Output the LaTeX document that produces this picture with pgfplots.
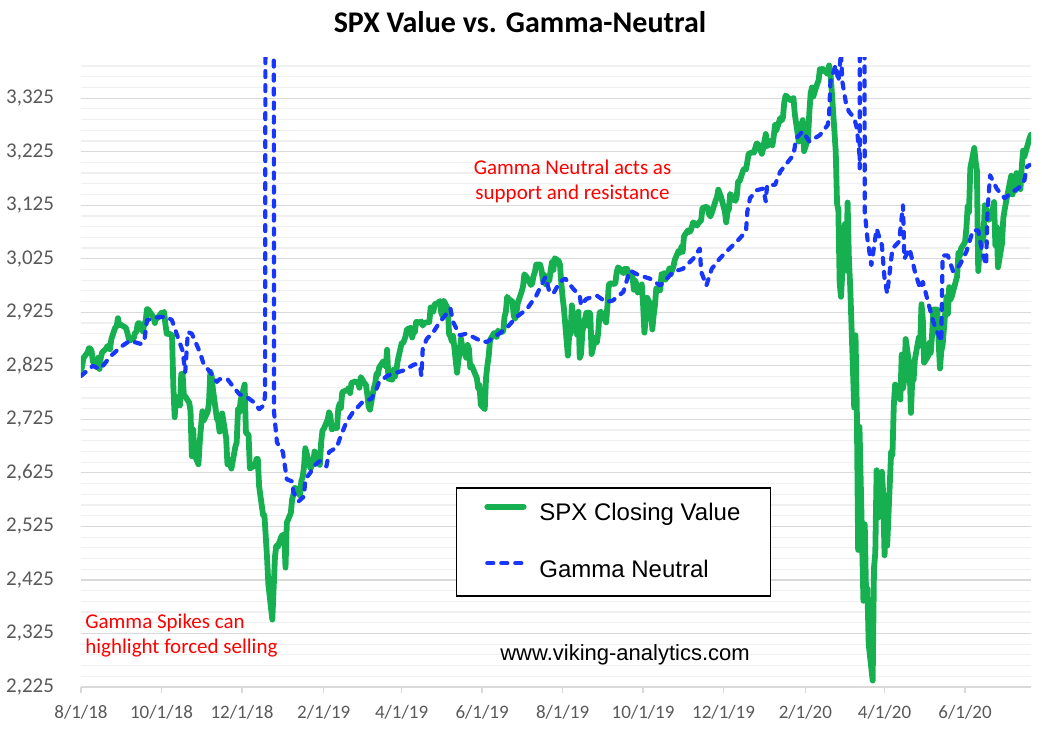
\documentclass[border=0pt]{standalone}
\usepackage{fontspec}
\setmainfont{Carlito}
\newfontfamily\arialfont{Liberation Sans}
\usepackage{pgfplots}
\pgfplotsset{compat=1.18}

\definecolor{spxgreen}{RGB}{22,176,80}
\definecolor{gnblue}{RGB}{25,55,250}
\definecolor{gridmaj}{RGB}{217,217,217}
\definecolor{gridmin}{RGB}{240,240,240}
\definecolor{ticklab}{RGB}{89,89,89}
\definecolor{annred}{RGB}{255,0,0}

\pgfplotsset{
  legimg/.style={legend image code/.code={\draw[##1] (1.4pt,3.5pt) -- (19.6pt,3.5pt); \path (25pt,3.5pt);}},
}

\begin{document}
\begin{tikzpicture}
\begin{axis}[
  at={(0,0)}, anchor=south west,
  scale only axis, width=475pt, height=314.5pt,
  xmin=0, xmax=720, ymin=2225, ymax=3400,
  axis x line*=bottom, axis y line*=left,
  x axis line style={draw=gridmaj, line width=0.7pt, -},
  y axis line style={draw=none},
  xtick={0,61,122,184,243,304,365,426,487,549,609,670},
  xticklabels={8/1/18,10/1/18,12/1/18,2/1/19,4/1/19,6/1/19,8/1/19,10/1/19,12/1/19,2/1/20,4/1/20,6/1/20},
  ytick={2225,2325,...,3325},
  minor ytick={2245,2265,2285,2305,2345,2365,2385,2405,2445,2465,2485,2505,
    2545,2565,2585,2605,2645,2665,2685,2705,2745,2765,2785,2805,2845,2865,2885,2905,
    2945,2965,2985,3005,3045,3065,3085,3105,3145,3165,3185,3205,3245,3265,3285,3305,
    3345,3365,3385},
  ymajorgrids, yminorgrids,
  major grid style={draw=gridmaj, line width=0.6pt},
  minor grid style={draw=gridmin, line width=0.6pt},
  tick align=outside, major tick length=3pt,
  xtick style={draw=gridmaj, line width=0.7pt},
  ytick style={draw=none}, minor tick style={draw=none},
  scaled y ticks=false,
  /pgf/number format/1000 sep={,},
  /pgf/number format/assume math mode=true,
  tick label style={color=ticklab},
  yticklabel style={font=\fontsize{10.5}{12}\selectfont, xshift=-7pt},
  xticklabel style={font=\fontsize{9.5}{11}\selectfont, yshift=-2.5pt},
  legend cell align=left,
  legend style={at={(0.3944,0.3175)}, anchor=north west, draw=black, line width=0.7pt,
    inner xsep=14pt, inner ysep=6.8pt, row sep=16pt,
    font=\arialfont\fontsize{12}{14}\selectfont,
    nodes={inner sep=1pt}},
]
%% SPX closing values (x = days since 8/1/18)
\addplot[spxgreen, line width=2.9pt, line join=round, line cap=round, legimg]
coordinates {
(0,2813) (1,2827) (2,2840) (5,2850) (6,2858) (7,2857) (8,2853) (9,2833) (12,2822) (13,2840)
(14,2819) (15,2840) (16,2850) (19,2857) (20,2862) (21,2862) (22,2856) (23,2875) (26,2897) (27,2898)
(28,2914) (29,2901) (30,2902) (34,2896) (35,2888) (36,2878) (37,2872) (40,2877) (41,2887) (42,2888)
(43,2904) (44,2905) (47,2889) (48,2904) (49,2908) (50,2931) (51,2930) (54,2919) (55,2916) (56,2905)
(57,2914) (58,2914) (61,2924) (62,2923) (63,2926) (64,2902) (65,2885) (68,2884) (69,2881) (70,2786)
(71,2729) (72,2767) (75,2751) (76,2810) (77,2809) (78,2769) (79,2768) (82,2756) (83,2741) (84,2656)
(85,2706) (86,2659) (89,2641) (90,2682) (91,2712) (92,2740) (93,2723) (96,2739) (97,2756) (98,2814)
(99,2806) (100,2781) (103,2726) (104,2722) (105,2702) (106,2730) (107,2736) (110,2690) (111,2641) (112,2650)
(114,2633) (117,2674) (118,2682) (119,2744) (120,2738) (121,2760) (124,2790) (125,2700) (127,2696) (128,2633)
(131,2638) (132,2637) (133,2651) (134,2651) (135,2600) (138,2546) (139,2546) (140,2507) (141,2467) (142,2417)
(145,2351) (147,2468) (148,2489) (149,2486) (152,2507) (154,2510) (155,2448) (156,2532) (159,2550) (160,2575)
(161,2585) (162,2597) (163,2596) (166,2583) (167,2610) (168,2617) (169,2636) (170,2671) (174,2633) (175,2639)
(176,2643) (177,2665) (180,2644) (181,2640) (182,2681) (183,2704) (184,2707) (187,2725) (188,2738) (189,2732)
(190,2706) (191,2708) (194,2709) (195,2745) (196,2754) (197,2746) (198,2776) (202,2780) (203,2784) (204,2774)
(205,2793) (208,2796) (209,2794) (210,2793) (211,2784) (212,2804) (215,2792) (216,2789) (217,2771) (218,2749)
(219,2743) (222,2784) (223,2792) (224,2811) (225,2808) (226,2822) (229,2833) (230,2832) (231,2824) (232,2855)
(233,2801) (236,2799) (237,2818) (238,2805) (239,2816) (240,2834) (243,2867) (244,2867) (245,2873) (246,2880)
(247,2893) (250,2896) (251,2878) (252,2888) (253,2888) (254,2907) (257,2906) (258,2908) (259,2900) (260,2905)
(264,2907) (265,2934) (266,2927) (267,2926) (268,2940) (271,2943) (272,2946) (273,2924) (274,2918) (275,2946)
(278,2932) (279,2884) (280,2880) (281,2871) (282,2881) (285,2812) (286,2834) (287,2851) (288,2876) (289,2860)
(292,2840) (293,2864) (294,2857) (295,2822) (296,2826) (300,2802) (301,2783) (302,2789) (303,2752) (306,2744)
(307,2803) (308,2826) (309,2843) (310,2873) (313,2886) (314,2885) (315,2879) (316,2891) (317,2887) (320,2889)
(321,2917) (322,2926) (323,2954) (324,2950) (327,2945) (328,2918) (329,2913) (330,2924) (331,2942) (334,2964)
(335,2973) (336,2996) (338,2990) (341,2976) (342,2979) (343,2993) (344,3000) (345,3014) (348,3014) (349,3004)
(350,2985) (351,2995) (352,2977) (355,2985) (356,3005) (357,3019) (358,3004) (359,3026) (362,3021) (363,3014)
(364,2980) (365,2953) (366,2932) (369,2844) (370,2882) (371,2884) (372,2938) (373,2919) (376,2883) (377,2926)
(378,2840) (379,2847) (380,2889) (383,2924) (384,2900) (385,2925) (386,2922) (387,2847) (390,2878) (391,2869)
(392,2887) (393,2924) (394,2926) (398,2906) (399,2938) (400,2976) (401,2979) (404,2978) (405,2979) (406,3000)
(407,3009) (408,3007) (411,2998) (412,3006) (413,3006) (414,3006) (415,2992) (418,2992) (419,2967) (420,2984)
(421,2977) (422,2962) (425,2977) (426,2940) (427,2887) (428,2911) (429,2952) (432,2938) (433,2893) (434,2919)
(435,2938) (436,2970) (439,2966) (440,2996) (441,2990) (442,2998) (443,2986) (446,3007) (447,2996) (448,3004)
(449,3010) (450,3023) (453,3040) (454,3036) (455,3047) (456,3038) (457,3067) (460,3078) (461,3075) (462,3077)
(463,3085) (464,3093) (467,3087) (468,3092) (469,3094) (470,3097) (471,3120) (474,3122) (475,3120) (476,3108)
(477,3104) (478,3110) (481,3134) (482,3140) (483,3154) (485,3141) (488,3113) (489,3093) (490,3113) (491,3117)
(492,3146) (495,3136) (496,3133) (497,3142) (498,3169) (499,3169) (502,3191) (503,3193) (504,3192) (505,3206)
(506,3221) (509,3224) (510,3223) (512,3240) (513,3240) (516,3221) (517,3231) (519,3258) (520,3235) (523,3246)
(524,3237) (525,3253) (526,3275) (527,3265) (530,3288) (531,3283) (532,3289) (533,3317) (534,3330) (538,3321)
(539,3321) (540,3325) (541,3295) (544,3244) (545,3276) (546,3273) (547,3284) (548,3226) (551,3249) (552,3298)
(553,3334) (554,3345) (555,3328) (558,3352) (559,3358) (560,3379) (561,3374) (562,3380) (566,3370) (567,3386)
(568,3373) (569,3338) (572,3226) (573,3128) (574,3116) (575,2979) (576,2954) (579,3090) (580,3003) (581,3130)
(582,3024) (583,2972) (586,2747) (587,2882) (588,2741) (589,2481) (590,2711) (593,2386) (594,2529) (595,2398)
(596,2409) (597,2305) (600,2237) (601,2447) (602,2476) (603,2630) (604,2541) (607,2627) (608,2585) (609,2471)
(610,2527) (611,2489) (614,2664) (615,2659) (616,2750) (617,2790) (621,2762) (622,2846) (623,2783) (624,2800)
(625,2875) (628,2823) (629,2737) (630,2799) (631,2798) (632,2837) (635,2878) (636,2863) (637,2940) (638,2912)
(639,2831) (642,2843) (643,2868) (644,2849) (645,2882) (646,2930) (649,2930) (650,2870) (651,2820) (652,2852)
(653,2864) (656,2954) (657,2922) (658,2972) (659,2949) (660,2955) (664,2992) (665,3036) (666,3030) (667,3044)
(670,3056) (671,3081) (672,3123) (673,3112) (674,3194) (677,3232) (678,3207) (679,3190) (680,3002) (681,3041)
(684,3067) (685,3125) (686,3113) (687,3115) (688,3098) (691,3118) (692,3131) (693,3050) (694,3084) (695,3009)
(698,3053) (699,3100) (700,3116) (701,3130) (705,3180) (706,3145) (707,3169) (708,3152) (709,3185) (712,3155)
(713,3197) (714,3227) (715,3216) (716,3225) (719,3251) (720,3257)
};
\addlegendentry{SPX Closing Value}
%% Gamma neutral level (spikes run off the top of the axis)
\addplot[gnblue, line width=2.1pt, line cap=round, line join=round, dash pattern=on 3pt off 4pt, legimg]
coordinates {
(0,2806) (9,2825) (14,2819) (17,2826) (22,2842) (30,2860) (37,2872) (45,2866) (48,2871) (50,2910)
(56,2915) (65,2917) (69,2910) (72,2888) (77,2853) (79,2813) (81,2888) (84,2885) (90,2851) (93,2828)
(98,2813) (103,2795) (105,2800) (111,2800) (115,2787) (120,2772) (126,2766) (131,2757) (135,2744) (138,2750)
(139.5,2768) (140,4000) (146,4000) (146.3,2739) (148.5,2682) (153,2664) (156,2613) (160,2609) (161,2589) (165,2572)
(169,2581) (170,2613) (174,2626) (176,2637) (181,2647) (186,2637) (188,2664) (194,2673) (196,2688) (201,2719)
(206,2738) (214,2759) (220,2763) (224,2782) (226,2795) (232,2806) (236,2810) (244,2816) (253,2828) (257,2825)
(258,2806) (259,2857) (262,2875) (267,2888) (272,2907) (276,2919) (280,2932) (282,2907) (287,2882) (292,2885)
(297,2879) (304,2870) (308,2870) (315,2882) (322,2894) (330,2916) (338,2931) (345,2956) (352,2991) (355,2963)
(358,2960) (363,2982) (367,2988) (373,2969) (378,2956) (379,2938) (383,2950) (391,2956) (398,2944) (403,2947)
(411,2963) (416,3003) (423,2994) (431,2988) (439,2975) (449,3001) (456,3006) (464,3025) (469,3044) (470,3001)
(474,2975) (478,3006) (484,3025) (489,3038) (497,3057) (504,3076) (505,3113) (507,3138) (512,3153) (517,3156)
(519,3132) (520,3163) (526,3163) (530,3188) (540,3219) (542,3250) (547,3263) (552,3244) (560,3256) (566,3275)
(567,3294) (568,3356) (572,3387) (574,3356) (576,3410) (577,3356) (580,3312) (582,3300) (586,3288) (588,3269)
(590,3219) (590.2,3194) (590.5,4000) (593.5,4000) (594,3113) (596,3063) (599,3013) (603,3081) (607,3050) (609,2988)
(611,2960) (615,3044) (620,3057) (623,3125) (624,3025) (628,3044) (632,3001) (636,2969) (638,2982) (642,2944)
(646,2907) (649,2888) (652,2870) (653,3031) (657,3031) (661,3001) (666,3013) (671,3038) (676,3078) (680,3078)
(683,3038) (686,3013) (687,3113) (689,3181) (694,3156) (700,3138) (706,3150) (710,3156) (713,3163) (715,3172)
(717,3197) (719,3200)
};
\addlegendentry{Gamma Neutral}
\end{axis}
%% Title and annotations (1 px of the reference = 0.5 pt, origin at the axis' lower left corner)
\node[anchor=base, font=\bfseries\fontsize{15}{18}\selectfont] at (219.5pt,327pt) {SPX Value vs. Gamma-Neutral};
\node[anchor=base, text=annred, inner sep=0pt, font=\fontsize{10.5}{12}\selectfont] at (245.75pt,256pt) {Gamma Neutral acts as};
\node[anchor=base, text=annred, inner sep=0pt, font=\fontsize{10.5}{12}\selectfont] at (245.75pt,243.5pt) {support and resistance};
\node[anchor=base west, text=annred, inner sep=0pt, font=\fontsize{10.5}{12}\selectfont] at (2pt,29.5pt) {Gamma Spikes can};
\node[anchor=base west, text=annred, inner sep=0pt, font=\fontsize{10.5}{12}\selectfont] at (2pt,17pt) {highlight forced selling};
\node[anchor=base, inner sep=0pt, font=\arialfont\fontsize{11}{13}\selectfont] at (272pt,13.5pt) {www.viking-analytics.com};
\pgfresetboundingbox
\path[use as bounding box] (-40.5pt,-23.5pt) rectangle (480.5pt,343.5pt);
\end{tikzpicture}
\end{document}
